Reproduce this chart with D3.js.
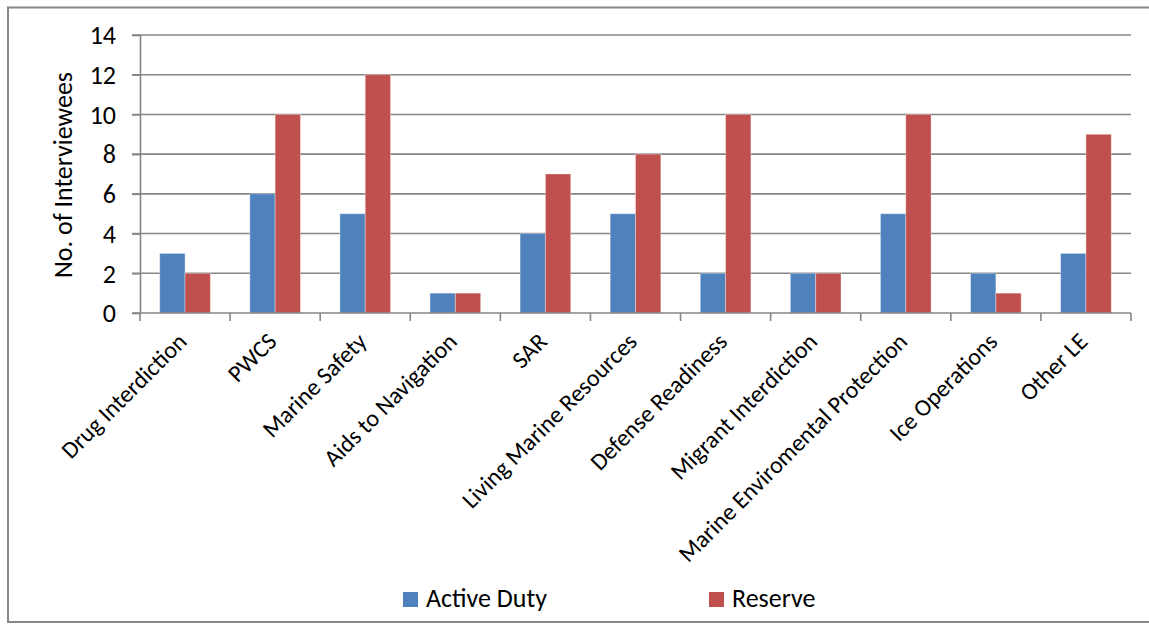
<!DOCTYPE html>
<html>
<head>
<meta charset="utf-8">
<script src="https://cdn.jsdelivr.net/npm/d3@7"></script>
<style>
  html, body { margin: 0; padding: 0; background: #fff; }
  svg { display: block; }
  text { font-family: Carlito, "Open Sans", "Noto Sans", sans-serif; fill: #000; }
</style>
</head>
<body>
<svg id="chart" width="1149" height="624"></svg>
<script>
// Interviewees by mission area
const categories = [
  "Drug Interdiction", "PWCS", "Marine Safety", "Aids to Navigation", "SAR",
  "Living Marine Resources", "Defense Readiness", "Migrant Interdiction",
  "Marine Enviromental Protection", "Ice Operations", "Other LE"
];
const activeDuty = [3, 6, 5, 1, 4, 5, 2, 2, 5, 2, 3];
const reserve    = [2, 10, 12, 1, 7, 8, 10, 2, 10, 1, 9];
const seriesNames = ["Active Duty", "Reserve"];
const yTicks = [0, 2, 4, 6, 8, 10, 12, 14];

const colors = { "Active Duty": "#4F81BD", "Reserve": "#C0504D" };
const rows = categories.map((c, i) => ({ cat: c, "Active Duty": activeDuty[i], "Reserve": reserve[i] }));

const svg = d3.select("#chart");
const plot = { left: 140, right: 1131, top: 35, bottom: 313 };

// outer chart frame
svg.append("path")
  .attr("d", "M1149,7.5 H8 V622 H1149")
  .attr("fill", "none").attr("stroke", "#868686").attr("stroke-width", 2);

const x = d3.scaleBand().domain(categories).range([plot.left, plot.right]).padding(0);
const gap = x.bandwidth() * 0.219;
const xs = d3.scaleBand().domain(seriesNames).range([gap, x.bandwidth() - gap]).padding(0);
const y = d3.scaleLinear().domain([0, 14]).range([plot.bottom, plot.top]);

// horizontal gridlines
svg.append("g").selectAll("line").data(yTicks.filter(t => t > 0)).join("line")
  .attr("x1", plot.left - 8).attr("x2", plot.right)
  .attr("y1", d => y(d)).attr("y2", d => y(d))
  .attr("stroke", "#868686").attr("stroke-width", 1.6);

// bars
const groups = svg.append("g").selectAll("g").data(rows).join("g")
  .attr("transform", d => `translate(${x(d.cat)},0)`);
groups.selectAll("rect").data(d => seriesNames.map(s => ({ s, v: d[s] }))).join("rect")
  .attr("x", d => xs(d.s))
  .attr("width", xs.bandwidth())
  .attr("y", d => y(d.v))
  .attr("height", d => y(0) - y(d.v))
  .attr("fill", d => colors[d.s])
  .attr("stroke", "rgba(255,255,255,0.35)")
  .attr("stroke-width", 1);

// y axis
const yAxis = svg.append("g").attr("transform", `translate(${plot.left},0)`)
  .call(d3.axisLeft(y).tickValues(yTicks).tickSize(8).tickPadding(16));
yAxis.select(".domain").attr("stroke", "#868686").attr("stroke-width", 1.6)
  .attr("d", `M0.5,${plot.top}V${plot.bottom}`);
yAxis.selectAll(".tick line").attr("stroke", "#868686").attr("stroke-width", 1.6);
yAxis.selectAll(".tick text").style("font-size", "26px").style("font-family", null).attr("dy", "0.34em");

// x axis line and category boundary ticks
svg.append("line")
  .attr("x1", plot.left - 8).attr("x2", plot.right)
  .attr("y1", plot.bottom).attr("y2", plot.bottom)
  .attr("stroke", "#868686").attr("stroke-width", 1.6);
const bounds = categories.map(c => x(c)).concat([plot.right]);
svg.append("g").selectAll("line").data(bounds).join("line")
  .attr("x1", d => d).attr("x2", d => d)
  .attr("y1", plot.bottom).attr("y2", plot.bottom + 8)
  .attr("stroke", "#868686").attr("stroke-width", 1.6);

// rotated category labels
svg.append("g").selectAll("text").data(categories).join("text")
  .attr("transform", d => `translate(${x(d) + x.bandwidth() / 2 + 3},${plot.bottom + 30}) rotate(-45)`)
  .attr("text-anchor", "end")
  .style("font-size", "24px")
  .text(d => d);

// y axis title
svg.append("text")
  .attr("transform", `translate(72,${(plot.top + plot.bottom) / 2 + 1}) rotate(-90)`)
  .attr("text-anchor", "middle")
  .style("font-size", "26px")
  .text("No. of Interviewees");

// legend
const legendX = [403, 709];
const legend = svg.append("g").selectAll("g").data(seriesNames).join("g")
  .attr("transform", (d, i) => `translate(${legendX[i]},592)`);
legend.append("rect").attr("width", 15).attr("height", 15).attr("fill", d => colors[d]);
legend.append("text").attr("x", 23).attr("y", 15).style("font-size", "26px").text(d => d);
</script>
</body>
</html>
